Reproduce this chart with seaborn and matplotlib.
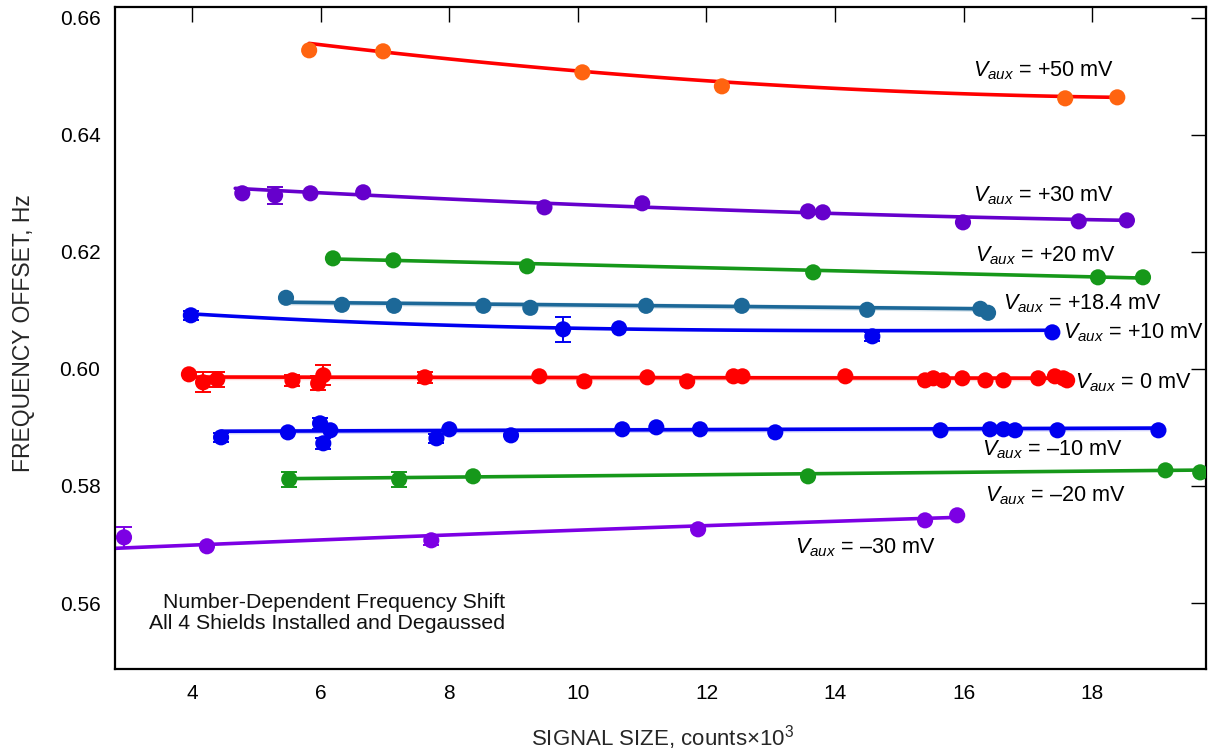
import numpy as np
import pandas as pd
import matplotlib
matplotlib.use("Agg")
import matplotlib.pyplot as plt
import seaborn as sns

# ---------------- data ----------------
series_names = ["+50", "+30", "+20", "+18.4", "+10", "0", "-10", "-20", "-30"]
label_texts = ["+50 mV", "+30 mV", "+20 mV", "+18.4 mV", "+10 mV", "0 mV",
               "\u201310 mV", "\u201320 mV", "\u201330 mV"]

x_p50 = [5.82, 6.97, 10.07, 12.24, 17.58, 18.39]
y_p50 = [0.65440, 0.65423, 0.65064, 0.64825, 0.64620, 0.64637]
e_p50 = [0, 0, 0, 0, 0, 0]

x_p30 = [4.78, 5.29, 5.84, 6.66, 9.48, 11.00, 13.58, 13.81, 15.99, 17.79, 18.54]
y_p30 = [0.62998, 0.62963, 0.62998, 0.63015, 0.62758, 0.62827, 0.62690, 0.62673,
         0.62502, 0.62519, 0.62536]
e_p30 = [0, 0.0014, 0, 0, 0, 0, 0, 0, 0, 0, 0]

x_p20 = [6.19, 7.13, 9.21, 13.66, 18.09, 18.79]
y_p20 = [0.61887, 0.61853, 0.61751, 0.61648, 0.61563, 0.61563]
e_p20 = [0, 0, 0, 0, 0, 0]

x_p184 = [5.46, 6.33, 7.14, 8.53, 9.26, 11.06, 12.55, 14.50, 16.26, 16.38]
y_p184 = [0.61213, 0.61093, 0.61076, 0.61076, 0.61042, 0.61076, 0.61076, 0.61008,
          0.61025, 0.60957]
e_p184 = [0, 0, 0, 0, 0, 0, 0, 0, 0, 0]

x_p10 = [3.98, 9.77, 10.64, 14.58, 17.38]
y_p10 = [0.60914, 0.60675, 0.60692, 0.60555, 0.60623]
e_p10 = [0.0008, 0.0021, 0, 0.0008, 0]

x_0 = [3.95, 4.17, 4.39, 5.56, 5.96, 6.04, 7.62, 9.40, 10.10, 11.08, 11.70, 12.42,
       12.56, 14.16, 15.40, 15.53, 15.68, 15.98, 16.34, 16.62, 17.16, 17.42, 17.55, 17.61]
y_0 = [0.59906, 0.59769, 0.59820, 0.59803, 0.59752, 0.59889, 0.59855, 0.59872,
       0.59786, 0.59855, 0.59786, 0.59872, 0.59872, 0.59872, 0.59803, 0.59838,
       0.59803, 0.59838, 0.59803, 0.59803, 0.59838, 0.59872, 0.59838, 0.59803]
e_0 = [0, 0.0017, 0.0013, 0.0009, 0.0012, 0.0017, 0.0009, 0, 0, 0, 0, 0,
       0, 0, 0, 0, 0, 0, 0, 0, 0, 0, 0, 0]

x_m10 = [4.45, 5.49, 5.99, 6.15, 6.04, 7.80, 8.00, 8.96, 10.69, 11.22, 11.90, 13.07,
         15.64, 16.41, 16.62, 16.80, 17.46, 19.03]
y_m10 = [0.58830, 0.58915, 0.59069, 0.58950, 0.58728, 0.58813, 0.58967, 0.58864,
         0.58967, 0.59001, 0.58967, 0.58915, 0.58950, 0.58967, 0.58967, 0.58950,
         0.58950, 0.58950]
e_m10 = [0.0008, 0, 0.0009, 0, 0.0009, 0.0008, 0, 0, 0, 0, 0, 0, 0, 0, 0, 0, 0, 0]

x_m20 = [5.51, 7.22, 8.37, 13.58, 19.14, 19.68]
y_m20 = [0.58113, 0.58113, 0.58164, 0.58164, 0.58266, 0.58232]
e_m20 = [0.0013, 0.0013, 0, 0, 0, 0]

x_m30 = [2.94, 4.23, 7.72, 11.87, 15.40, 15.90]
y_m30 = [0.57122, 0.56969, 0.57071, 0.57259, 0.57412, 0.57498]
e_m30 = [0.0018, 0, 0.0008, 0, 0, 0]

# fitted curves: values of each fit line read at a few abscissae, and fit degree
fx_p50 = [5.82, 10.07, 18.39];               fy_p50 = [0.65559, 0.65081, 0.64637]
fx_p30 = [4.67, 8.79, 15.01, 18.54];         fy_p30 = [0.63083, 0.62861, 0.62622, 0.62536]
fx_p20 = [6.19, 8.79, 15.01, 18.82];         fy_p20 = [0.61887, 0.61802, 0.61631, 0.61563]
fx_p184 = [5.48, 8.79, 15.01, 16.30];        fy_p184 = [0.61136, 0.61102, 0.61050, 0.61016]
fx_p10 = [3.98, 4.64, 6.72, 8.79, 12.73, 15.01, 17.38]
fy_p10 = [0.60948, 0.60880, 0.60811, 0.60709, 0.60657, 0.60657, 0.60657]
fx_0 = [3.95, 17.61];                        fy_0 = [0.59860, 0.59840]
fx_m10 = [4.45, 8.79, 19.03];                fy_m10 = [0.58925, 0.58962, 0.58984]
fx_m20 = [5.51, 8.79, 15.01, 19.68];         fy_m20 = [0.58130, 0.58147, 0.58232, 0.58267]
fx_m30 = [2.80, 10.35, 15.90];               fy_m30 = [0.56934, 0.57258, 0.57463]
fit_deg = [2, 2, 1, 1, 3, 1, 1, 1, 2]

x_ticks = [4, 6, 8, 10, 12, 14, 16, 18]
y_ticks = [0.56, 0.58, 0.60, 0.62, 0.64, 0.66]

# ---------------- assemble ----------------
pts = [(x_p50, y_p50, e_p50), (x_p30, y_p30, e_p30), (x_p20, y_p20, e_p20),
       (x_p184, y_p184, e_p184), (x_p10, y_p10, e_p10), (x_0, y_0, e_0),
       (x_m10, y_m10, e_m10), (x_m20, y_m20, e_m20), (x_m30, y_m30, e_m30)]
fits = [(fx_p50, fy_p50), (fx_p30, fy_p30), (fx_p20, fy_p20), (fx_p184, fy_p184),
        (fx_p10, fy_p10), (fx_0, fy_0), (fx_m10, fy_m10), (fx_m20, fy_m20),
        (fx_m30, fy_m30)]

rows = []
for name, (xs, ys, es) in zip(series_names, pts):
    for a, b, c in zip(xs, ys, es):
        rows.append({"series": name, "x": a, "y": b, "err": c})
df = pd.DataFrame(rows)

frows = []
for name, (fx, fy), deg in zip(series_names, fits, fit_deg):
    deg = min(deg, len(fx) - 1)
    coef = np.polyfit(fx, fy, deg)
    xx = np.linspace(fx[0], fx[-1], 80)
    for a, b in zip(xx, np.polyval(coef, xx)):
        frows.append({"series": name, "x": a, "y": b})
dfit = pd.DataFrame(frows)

marker_colors = {"+50": "#ff6410", "+30": "#6600cc", "+20": "#16981a", "+18.4": "#1c6898",
                 "+10": "#0000f0", "0": "#ff0000", "-10": "#0000f0", "-20": "#16981a",
                 "-30": "#7c00e4"}
line_colors = dict(marker_colors)
line_colors["+50"] = "#ff0000"
band_series = ["+18.4", "0", "-10"]

# label anchor positions (left edge, vertical centre) in data units
label_pos = {"+50": (16.15, 0.65098), "+30": (16.15, 0.62963), "+20": (16.18, 0.61939),
             "+18.4": (16.61, 0.61119), "+10": (17.55, 0.60623), "0": (17.73, 0.59769),
             "-10": (16.29, 0.58625), "-20": (16.33, 0.57840), "-30": (13.38, 0.56951)}

# ---------------- style ----------------
sns.set_theme(style="white")
plt.rcParams["font.family"] = ["Liberation Sans", "DejaVu Sans"]
plt.rcParams["mathtext.fontset"] = "custom"
plt.rcParams["mathtext.rm"] = "Liberation Sans"
plt.rcParams["mathtext.it"] = "Liberation Sans:italic"
plt.rcParams["mathtext.bf"] = "Liberation Sans:bold"

fig = plt.figure(figsize=(12.1, 7.52), dpi=100)
ax = fig.add_axes([115 / 1210, 1 - 669 / 752, (1206 - 115) / 1210, (669 - 7) / 752])

# light bands under some fits
for name in band_series:
    sub = dfit[dfit.series == name]
    ax.fill_between(sub.x, sub.y - 0.00045, sub.y + 0.00045,
                    color=line_colors[name], alpha=0.18, linewidth=0, zorder=1)

sns.lineplot(data=dfit, x="x", y="y", hue="series", palette=line_colors,
             hue_order=series_names, estimator=None, sort=False, linewidth=2.6,
             legend=False, ax=ax, zorder=2)

for name in series_names:
    sub = df[(df.series == name) & (df.err > 0)]
    if len(sub):
        ax.errorbar(sub.x, sub.y, yerr=sub.err, fmt="none", ecolor=marker_colors[name],
                    elinewidth=1.4, capsize=6, capthick=1.4, zorder=3)

sns.scatterplot(data=df, x="x", y="y", hue="series", palette=marker_colors,
                hue_order=series_names, s=135, linewidth=0, legend=False, ax=ax,
                zorder=4)

for name, txt in zip(series_names, label_texts):
    lx, ly = label_pos[name]
    ax.text(lx, ly, r"$V_{aux}$" + " = " + txt, fontsize=15.6, ha="left", va="center",
            color="black")

ax.text(8.87, 0.56012, "Number-Dependent Frequency Shift", fontsize=15.3,
        ha="right", va="center", color="#111111")
ax.text(8.87, 0.55653, "All 4 Shields Installed and Degaussed", fontsize=15.3,
        ha="right", va="center", color="#111111")

ax.set_xlim(2.80, 19.77)
ax.set_ylim(0.54873, 0.66180)
ax.set_xticks(x_ticks)
ax.set_xticklabels([str(v) for v in x_ticks])
ax.set_yticks(y_ticks)
ax.set_yticklabels([f"{v:.2f}" for v in y_ticks])
ax.tick_params(direction="in", length=11, width=1.0, top=True, right=True,
               labelsize=15, pad=10.5, colors="black")
for sp in ax.spines.values():
    sp.set_linewidth(1.6)
    sp.set_color("black")

ax.set_xlabel("SIGNAL SIZE, counts\u00d710$^{3}$", fontsize=16)
ax.set_ylabel("FREQUENCY OFFSET, Hz", fontsize=16.5)
ax.xaxis.set_label_coords(0.502, -0.103)
ax.xaxis.label.set_va("center")
ax.yaxis.set_label_coords(-0.0843, 0.507)
ax.yaxis.label.set_va("center")
ax.grid(False)

fig.savefig("out.png", dpi=100)
